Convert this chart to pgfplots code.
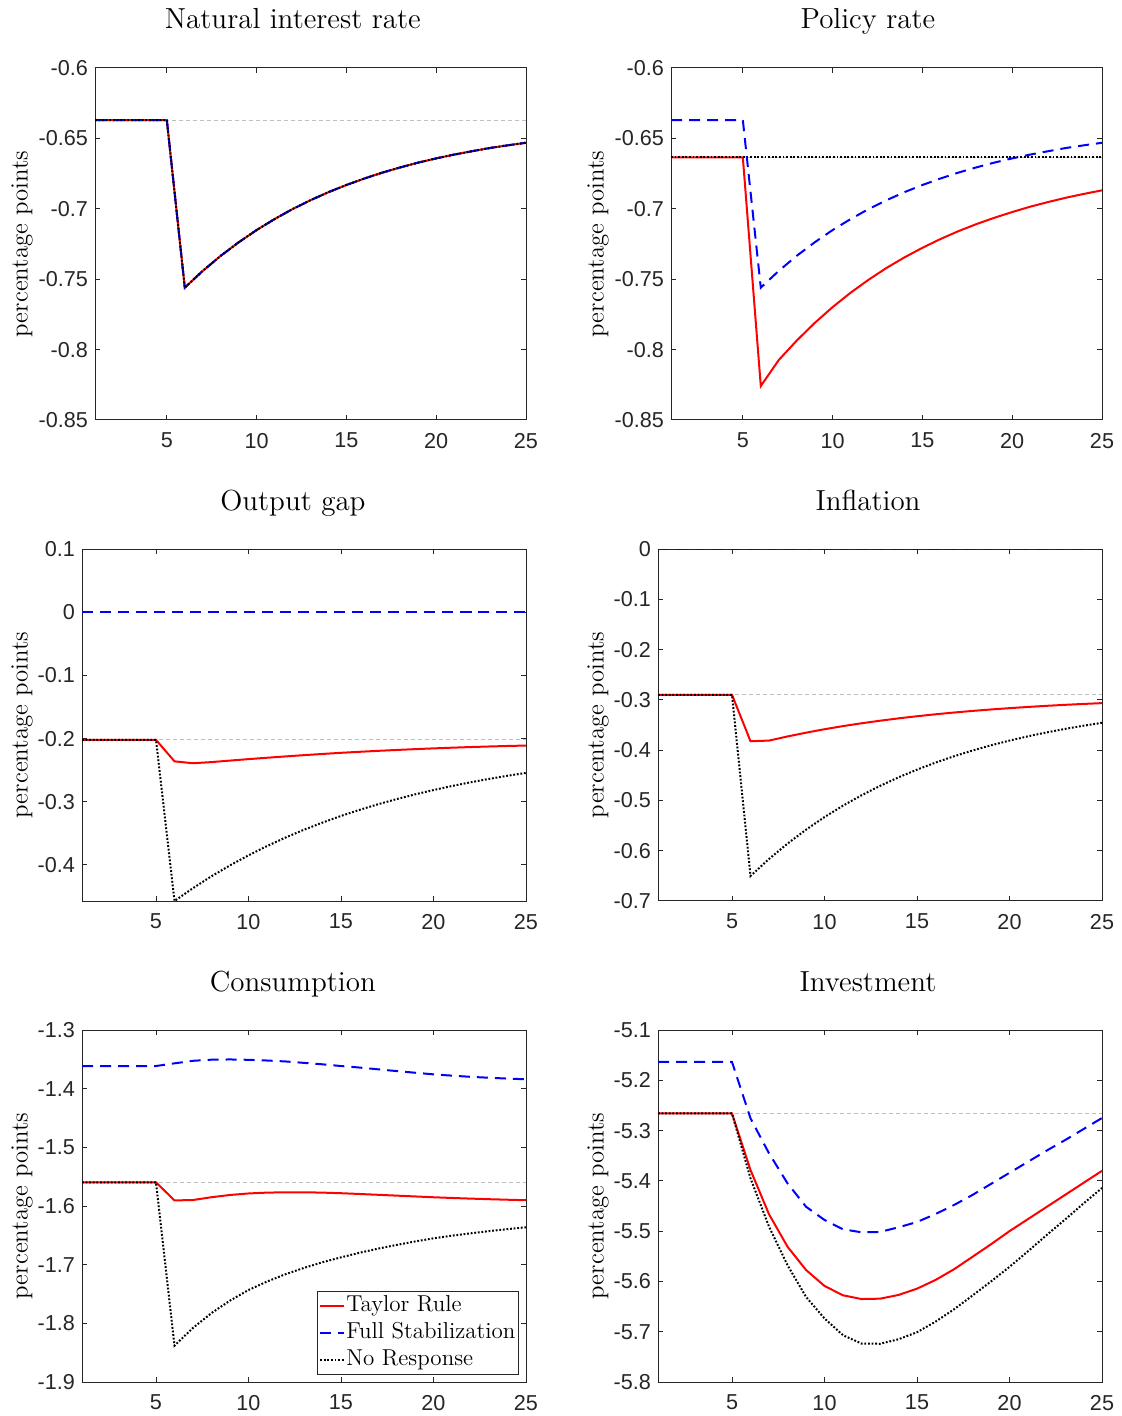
\documentclass[border=0pt]{standalone}
\usepackage{fontspec}
\usepackage{pgfplots}
\pgfplotsset{compat=1.18}
\usepackage{pgfplotstable}
\newfontfamily\arial{Liberation Sans}
\definecolor{axgray}{rgb}{0.15,0.15,0.15}
\definecolor{refgray}{rgb}{0.75,0.75,0.75}

\tikzset{
  trline/.style={red, line width=1pt},
  fsline/.style={blue, line width=1pt, dash pattern=on 5.5pt off 3.5pt},
  nrline/.style={black, line width=1pt, dash pattern=on 0.9pt off 0.9pt},
  ssline/.style={refgray, line width=0.4pt, dash pattern=on 2pt off 1.5pt},
}

\pgfplotsset{
  irf/.style={
    scale only axis, width=215.5pt, height=176pt, anchor=north west,
    xmin=1, xmax=25, xtick={5,10,15,20,25},
    axis line style={axgray, line width=0.5pt},
    tick style={axgray, line width=0.5pt},
    tick align=inside, tick pos=both, ticklabel pos=left,
    major tick length=2.5pt,
    ticklabel style={font=\fontsize{10.8}{12}\arial, text=axgray},
    xticklabel style={yshift=-3pt},
    /pgf/number format/assume math mode=true,
    title style={font=\fontsize{14.5}{17}\selectfont, anchor=base, yshift=13.5pt},
    ylabel={percentage points},
    ylabel style={font=\fontsize{12.4}{14}\selectfont, at={(0,0.5)}, anchor=center},
  },
}

% t, Taylor rule, full stabilization, no response
\pgfplotstableread{
t tr fs nr
1 -0.637 -0.637 -0.637
2 -0.637 -0.637 -0.637
3 -0.637 -0.637 -0.637
4 -0.637 -0.637 -0.637
5 -0.637 -0.637 -0.637
6 -0.756 -0.756 -0.756
7 -0.7441 -0.7441 -0.7441
8 -0.7334 -0.7334 -0.7334
9 -0.7238 -0.7238 -0.7238
10 -0.7151 -0.7151 -0.7151
11 -0.7073 -0.7073 -0.7073
12 -0.7002 -0.7002 -0.7002
13 -0.6939 -0.6939 -0.6939
14 -0.6882 -0.6882 -0.6882
15 -0.6831 -0.6831 -0.6831
16 -0.6785 -0.6785 -0.6785
17 -0.6743 -0.6743 -0.6743
18 -0.6706 -0.6706 -0.6706
19 -0.6672 -0.6672 -0.6672
20 -0.6642 -0.6642 -0.6642
21 -0.6615 -0.6615 -0.6615
22 -0.6591 -0.6591 -0.6591
23 -0.6568 -0.6568 -0.6568
24 -0.6549 -0.6549 -0.6549
25 -0.6531 -0.6531 -0.6531
}\natrate

\pgfplotstableread{
t tr fs nr
1 -0.6635 -0.637 -0.6635
2 -0.6635 -0.637 -0.6635
3 -0.6635 -0.637 -0.6635
4 -0.6635 -0.637 -0.6635
5 -0.6635 -0.637 -0.6635
6 -0.8259 -0.756 -0.6635
7 -0.8074 -0.7441 -0.6635
8 -0.7936 -0.7334 -0.6635
9 -0.7811 -0.7238 -0.6635
10 -0.7698 -0.7151 -0.6635
11 -0.7596 -0.7073 -0.6635
12 -0.7504 -0.7002 -0.6635
13 -0.7420 -0.6939 -0.6635
14 -0.7345 -0.6882 -0.6635
15 -0.7277 -0.6831 -0.6635
16 -0.7215 -0.6785 -0.6635
17 -0.7159 -0.6743 -0.6635
18 -0.7109 -0.6706 -0.6635
19 -0.7064 -0.6672 -0.6635
20 -0.7023 -0.6642 -0.6635
21 -0.6985 -0.6615 -0.6635
22 -0.6952 -0.6591 -0.6635
23 -0.6921 -0.6568 -0.6635
24 -0.6894 -0.6549 -0.6635
25 -0.6869 -0.6531 -0.6635
}\polrate

\pgfplotstableread{
t tr fs nr
1 -0.202 0 -0.202
2 -0.202 0 -0.202
3 -0.202 0 -0.202
4 -0.202 0 -0.202
5 -0.202 0 -0.202
6 -0.236 0 -0.457
7 -0.239 0 -0.4366
8 -0.2372 0 -0.4178
9 -0.2348 0 -0.4006
10 -0.2325 0 -0.3847
11 -0.2303 0 -0.3701
12 -0.2282 0 -0.3566
13 -0.2262 0 -0.3442
14 -0.2243 0 -0.3329
15 -0.2225 0 -0.3224
16 -0.2209 0 -0.3128
17 -0.2194 0 -0.3039
18 -0.2180 0 -0.2958
19 -0.2167 0 -0.2883
20 -0.2155 0 -0.2814
21 -0.2144 0 -0.2750
22 -0.2134 0 -0.2692
23 -0.2125 0 -0.2638
24 -0.2117 0 -0.2588
25 -0.2110 0 -0.2543
}\outgap

\pgfplotstableread{
t tr fs nr
1 -0.29 0 -0.29
2 -0.29 0 -0.29
3 -0.29 0 -0.29
4 -0.29 0 -0.29
5 -0.29 0 -0.29
6 -0.3823 0 -0.6502
7 -0.3810 0 -0.6165
8 -0.3728 0 -0.5859
9 -0.3653 0 -0.5582
10 -0.3584 0 -0.5331
11 -0.3522 0 -0.5104
12 -0.3466 0 -0.4898
13 -0.3415 0 -0.4711
14 -0.3368 0 -0.4541
15 -0.3326 0 -0.4388
16 -0.3287 0 -0.4248
17 -0.3252 0 -0.4122
18 -0.3220 0 -0.4008
19 -0.3191 0 -0.3904
20 -0.3165 0 -0.3810
21 -0.3141 0 -0.3725
22 -0.3119 0 -0.3648
23 -0.3099 0 -0.3578
24 -0.3081 0 -0.3514
25 -0.3065 0 -0.3457
}\infl

\pgfplotstableread{
t tr fs nr
1 -1.5596 -1.3614 -1.5596
2 -1.5596 -1.3614 -1.5596
3 -1.5596 -1.3614 -1.5596
4 -1.5596 -1.3614 -1.5596
5 -1.5596 -1.3614 -1.5596
6 -1.5905 -1.3568 -1.838
7 -1.5898 -1.3525 -1.8078
8 -1.5850 -1.3506 -1.7825
9 -1.5812 -1.3502 -1.7613
10 -1.5786 -1.3508 -1.7432
11 -1.5772 -1.3520 -1.7288
12 -1.5766 -1.3536 -1.7163
13 -1.5766 -1.3560 -1.7055
14 -1.5772 -1.3585 -1.6959
15 -1.5782 -1.3614 -1.6875
16 -1.5795 -1.3640 -1.6797
17 -1.5809 -1.3670 -1.6727
18 -1.5823 -1.3700 -1.6664
19 -1.5837 -1.3728 -1.6605
20 -1.5851 -1.3756 -1.6551
21 -1.5863 -1.3778 -1.6506
22 -1.5874 -1.3798 -1.6466
23 -1.5884 -1.3814 -1.6428
24 -1.5893 -1.3828 -1.6394
25 -1.5901 -1.3840 -1.6363
}\cons

\pgfplotstableread{
t tr fs nr
1 -5.266 -5.1636 -5.266
2 -5.266 -5.1636 -5.266
3 -5.266 -5.1636 -5.266
4 -5.266 -5.1636 -5.266
5 -5.266 -5.1636 -5.266
6 -5.3784 -5.2756 -5.395
7 -5.4665 -5.3452 -5.491
8 -5.5309 -5.4049 -5.5677
9 -5.5772 -5.4514 -5.6307
10 -5.6090 -5.4778 -5.6737
11 -5.6276 -5.4963 -5.707
12 -5.6350 -5.5023 -5.7235
13 -5.6343 -5.5016 -5.724
14 -5.6269 -5.4924 -5.715
15 -5.6144 -5.4818 -5.701
16 -5.5971 -5.466 -5.680
17 -5.5758 -5.448 -5.6555
18 -5.551 -5.428 -5.628
19 -5.526 -5.406 -5.600
20 -5.500 -5.384 -5.571
21 -5.476 -5.362 -5.540
22 -5.452 -5.340 -5.508
23 -5.428 -5.319 -5.477
24 -5.404 -5.297 -5.445
25 -5.380 -5.275 -5.414
}\inv

\begin{document}
\begin{tikzpicture}
\useasboundingbox (0,0) rectangle (560.5pt,-708pt);

% row 1
\begin{axis}[irf, at={(47.5pt,-34pt)},
  title={Natural interest rate}, title style={at={(0.459,1)}},
  ylabel style={yshift=36.5pt},
  ymin=-0.85, ymax=-0.6, ytick={-0.85,-0.8,-0.75,-0.7,-0.65,-0.6}]
\addplot[ssline] coordinates {(1,-0.637) (25,-0.637)};
\addplot[trline] table[x=t,y=tr] {\natrate};
\addplot[fsline] table[x=t,y=fs] {\natrate};
\addplot[nrline] table[x=t,y=nr] {\natrate};
\end{axis}

\begin{axis}[irf, at={(335.5pt,-34pt)},
  title={Policy rate}, title style={at={(0.457,1)}},
  ylabel style={yshift=36.5pt},
  ymin=-0.85, ymax=-0.6, ytick={-0.85,-0.8,-0.75,-0.7,-0.65,-0.6}]
\addplot[ssline] coordinates {(1,-0.6635) (25,-0.6635)};
\addplot[trline] table[x=t,y=tr] {\polrate};
\addplot[fsline] table[x=t,y=fs] {\polrate};
\addplot[nrline] table[x=t,y=nr] {\polrate};
\end{axis}

% row 2
\begin{axis}[irf, at={(41pt,-274.5pt)}, width=222pt,
  title={Output gap}, title style={at={(0.475,1)}},
  ylabel style={yshift=30pt},
  ymin=-0.457, ymax=0.1, ytick={-0.4,-0.3,-0.2,-0.1,0,0.1}]
\addplot[ssline] coordinates {(1,-0.202) (25,-0.202)};
\addplot[trline] table[x=t,y=tr] {\outgap};
\addplot[fsline] table[x=t,y=fs] {\outgap};
\addplot[nrline] table[x=t,y=nr] {\outgap};
\end{axis}

\begin{axis}[irf, at={(329pt,-274.5pt)}, width=222pt,
  title={Inflation}, title style={at={(0.473,1)}},
  ylabel style={yshift=30pt},
  ymin=-0.7, ymax=0, ytick={-0.7,-0.6,-0.5,-0.4,-0.3,-0.2,-0.1,0}]
\addplot[ssline] coordinates {(1,-0.29) (25,-0.29)};
\addplot[trline] table[x=t,y=tr] {\infl};
\addplot[fsline] table[x=t,y=fs] {\infl};
\addplot[nrline] table[x=t,y=nr] {\infl};
\end{axis}

% row 3
\begin{axis}[irf, at={(41pt,-515pt)}, width=222pt,
  title={Consumption}, title style={at={(0.475,1)}},
  ylabel style={yshift=30pt},
  ymin=-1.9, ymax=-1.3, ytick={-1.9,-1.8,-1.7,-1.6,-1.5,-1.4,-1.3},
  legend style={at={(1,0)}, anchor=south east, xshift=-3.5pt, yshift=3.5pt,
    draw=axgray, line width=0.5pt, inner xsep=1pt, inner ysep=0.5pt,
    font=\fontsize{11.5}{13}\selectfont,
    nodes={inner xsep=0.5pt, inner ysep=1.5pt, text height=8pt, text depth=2.5pt}},
  legend cell align=left,
  legend image code/.code={\draw[#1] (0pt,0pt) -- (12pt,0pt);}]
\addplot[ssline, forget plot] coordinates {(1,-1.5596) (25,-1.5596)};
\addplot[trline] table[x=t,y=tr] {\cons};
\addlegendentry{Taylor Rule}
\addplot[fsline] table[x=t,y=fs] {\cons};
\addlegendentry{Full Stabilization}
\addplot[nrline] table[x=t,y=nr] {\cons};
\addlegendentry{No Response}
\end{axis}

\begin{axis}[irf, at={(329pt,-515pt)}, width=222pt,
  title={Investment}, title style={at={(0.473,1)}},
  ylabel style={yshift=30pt},
  ymin=-5.8, ymax=-5.1, ytick={-5.8,-5.7,-5.6,-5.5,-5.4,-5.3,-5.2,-5.1}]
\addplot[ssline] coordinates {(1,-5.266) (25,-5.266)};
\addplot[trline] table[x=t,y=tr] {\inv};
\addplot[fsline] table[x=t,y=fs] {\inv};
\addplot[nrline] table[x=t,y=nr] {\inv};
\end{axis}
\end{tikzpicture}
\end{document}
